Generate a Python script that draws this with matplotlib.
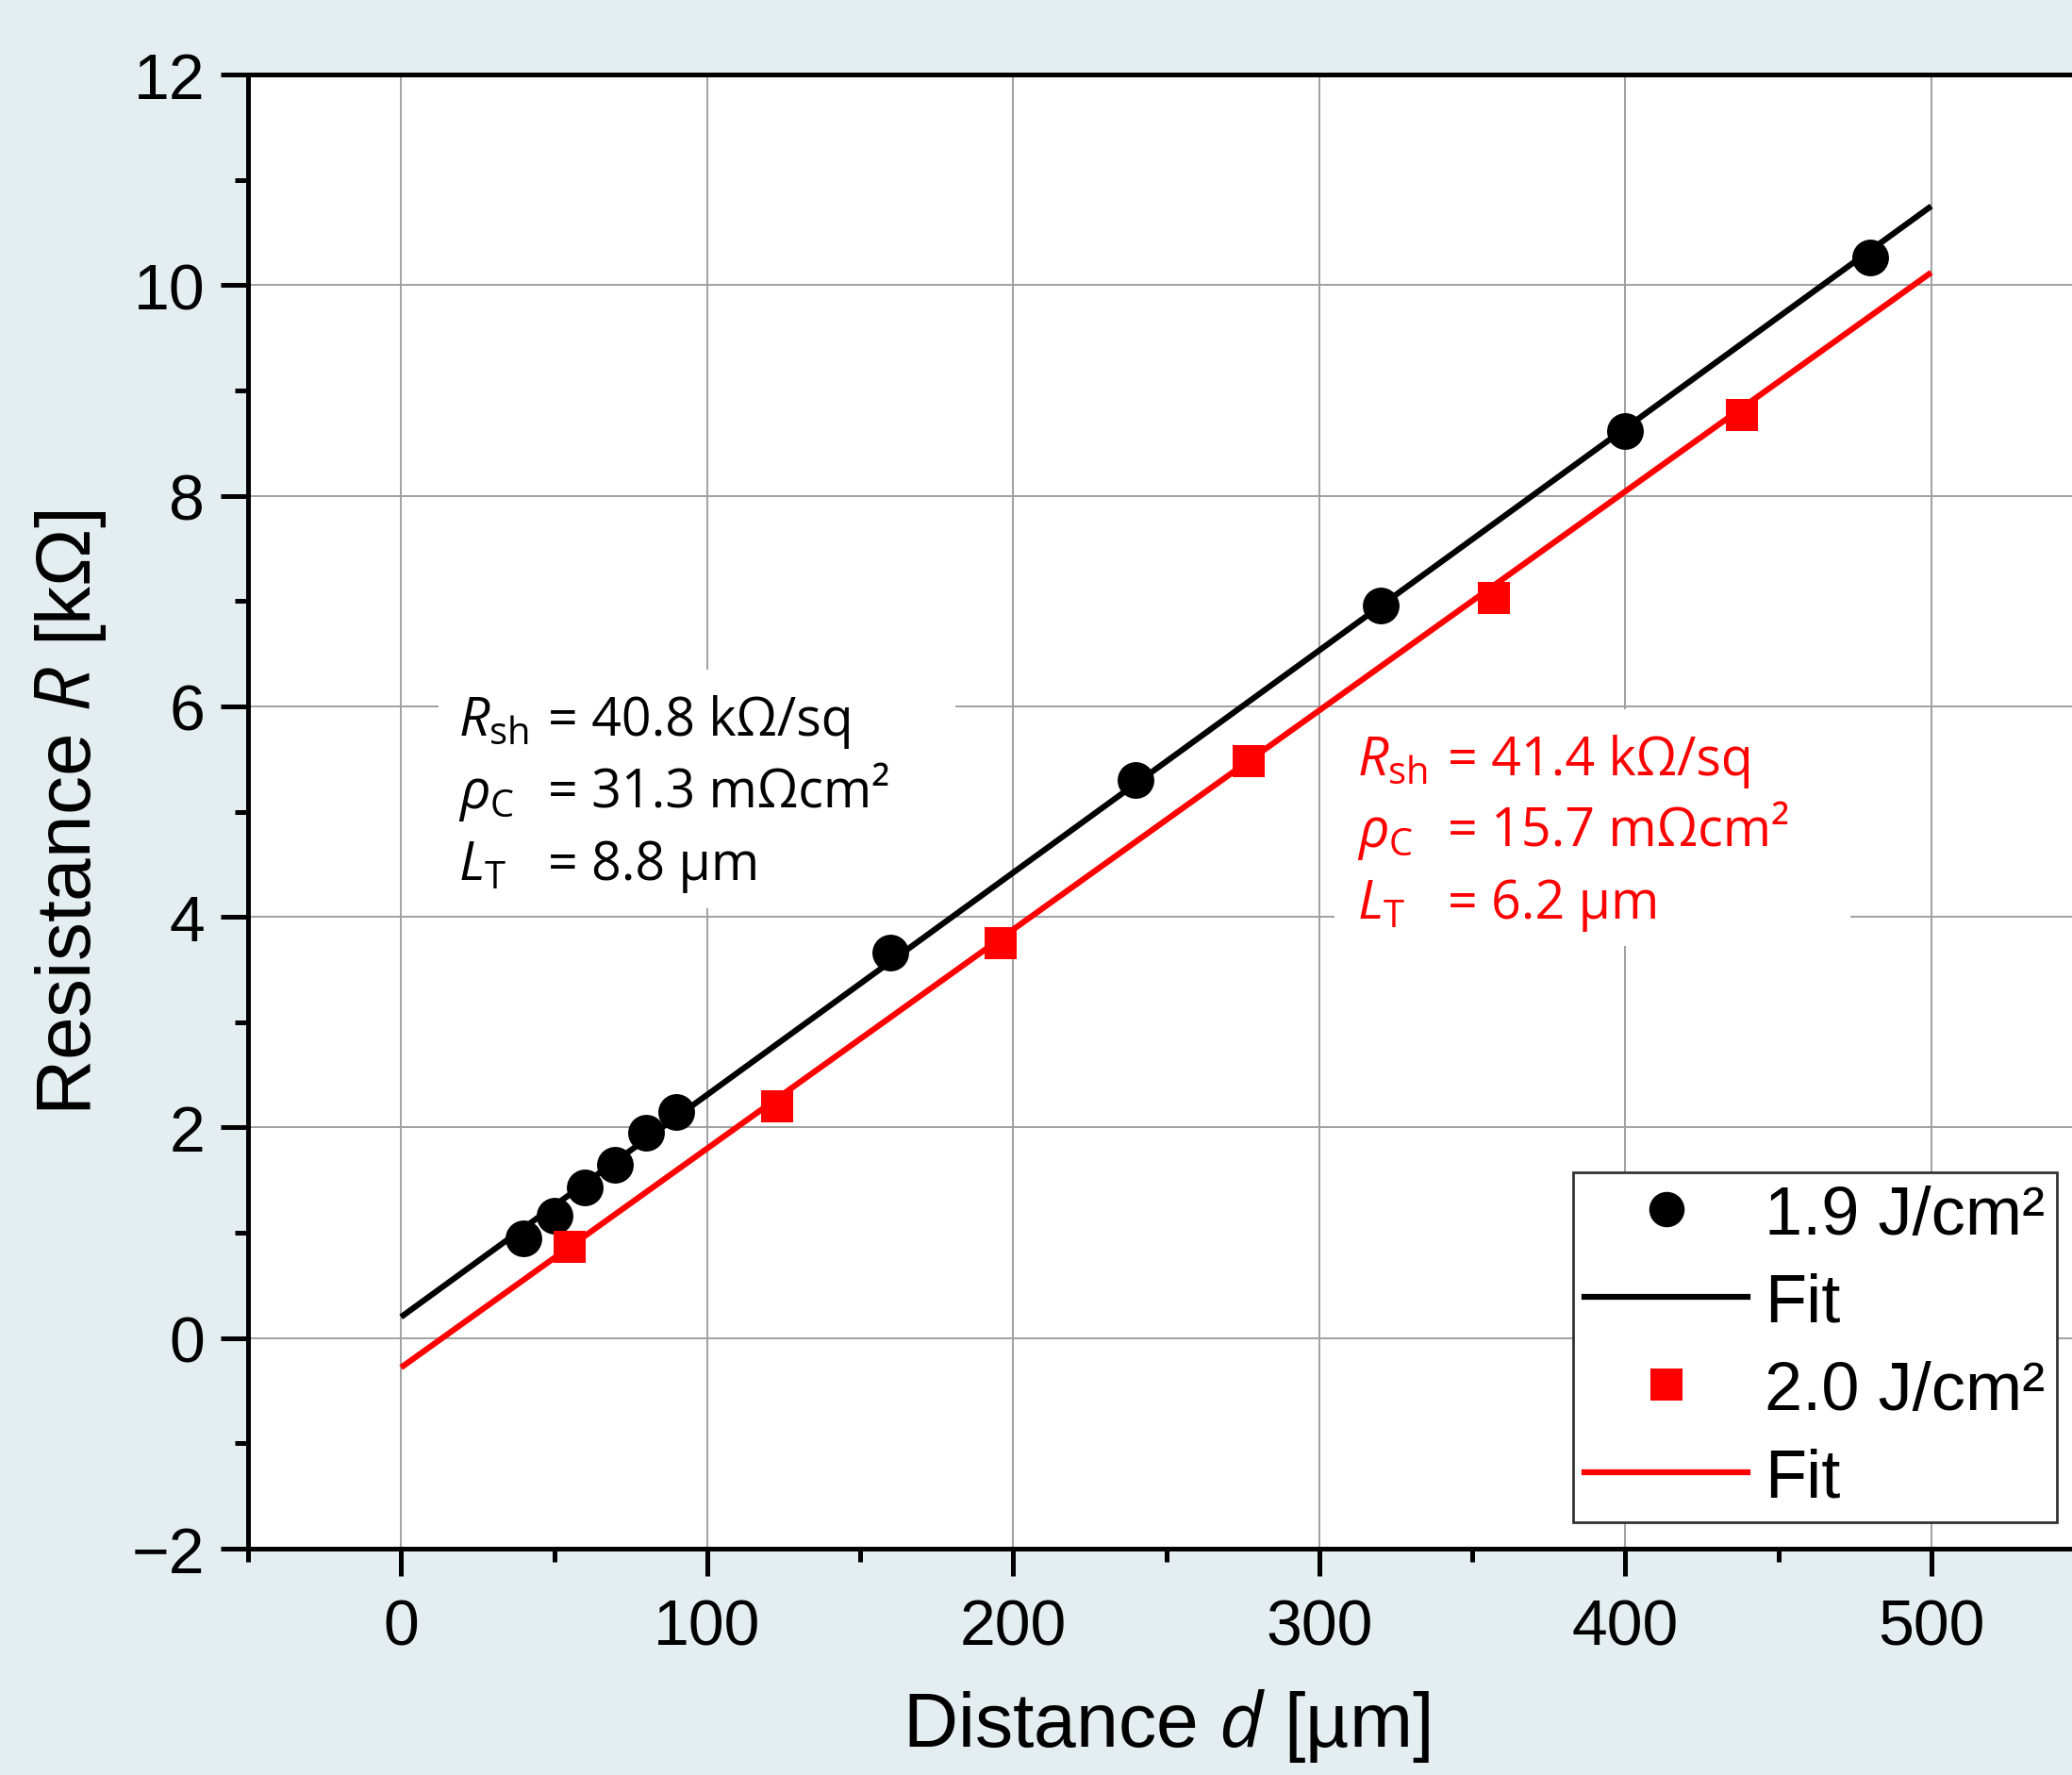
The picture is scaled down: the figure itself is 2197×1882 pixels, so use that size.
import numpy as np
import matplotlib
matplotlib.use("Agg")
import matplotlib.pyplot as plt
from matplotlib.patches import Rectangle
from matplotlib.lines import Line2D
from matplotlib.ticker import MultipleLocator

d_19 = [40, 50, 60, 70, 80, 90, 160, 240, 320, 400, 480]
R_19 = [0.95, 1.16, 1.43, 1.65, 1.95, 2.15, 3.66, 5.30, 6.96, 8.61, 10.26]
d_20 = [55, 123, 196, 277, 357, 438]
R_20 = [0.87, 2.20, 3.75, 5.48, 7.03, 8.77]

# fit lines (end points)
fit_d = [0, 500]
fit_19 = [0.20, 10.75]
fit_20 = [-0.28, 10.12]

labels = ["1.9 J/cm²", "Fit", "2.0 J/cm²", "Fit"]
txt_19 = ["40.8 kΩ/sq", "31.3 mΩcm²", "8.8 µm"]
txt_20 = ["41.4 kΩ/sq", "15.7 mΩcm²", "6.2 µm"]
sym = [r"$R_\mathregular{sh}$", r"$\rho_\mathregular{C}$", r"$L_\mathregular{T}$"]

plt.rcParams["font.family"] = ["Liberation Sans", "DejaVu Sans"]
plt.rcParams["mathtext.fontset"] = "custom"
plt.rcParams["mathtext.rm"] = "Open Sans"
plt.rcParams["mathtext.it"] = "Open Sans:italic"

bg = "#e4edf0"
fig = plt.figure(figsize=(21.97, 18.83), dpi=100, facecolor=bg)
ax = fig.add_axes([263 / 2197, 1 - 1643 / 1883, (2210 - 263) / 2197, (1643 - 80) / 1883])
ax.set_facecolor("white")

ax.set_xlim(-50, 550)
ax.set_ylim(-2, 12)
ax.xaxis.set_major_locator(MultipleLocator(100))
ax.xaxis.set_minor_locator(MultipleLocator(50))
ax.yaxis.set_major_locator(MultipleLocator(2))
ax.yaxis.set_minor_locator(MultipleLocator(1))
ax.set_axisbelow(True)
ax.grid(True, which="major", color="#a0a0a0", lw=1.4)

for s in ax.spines.values():
    s.set_linewidth(3.6)
ax.tick_params(which="major", direction="out", length=21, width=3.6,
               labelsize=49, top=False, right=False)
ax.tick_params(which="minor", direction="out", length=10, width=3.6,
               top=False, right=False)
ax.tick_params(axis="x", which="major", pad=16)
ax.tick_params(axis="y", which="major", pad=12)

# white boxes behind the parameter text
ax.add_patch(Rectangle((12.3, 4.08), 168.7, 2.27, facecolor="white",
                       edgecolor="none", zorder=1))
ax.add_patch(Rectangle((305, 3.72), 168.5, 2.25, facecolor="white",
                       edgecolor="none", zorder=1))

ax.plot(fit_d, fit_19, color="black", lw=4.5, zorder=2, solid_capstyle="butt")
ax.plot(fit_d, fit_20, color="#ff0000", lw=4.5, zorder=2, solid_capstyle="butt")
ax.plot(d_19, R_19, "o", color="black", ms=28, mew=0, zorder=3)
ax.plot(d_20, R_20, "s", color="#ff0000", ms=24, mew=0, zorder=3)

rows_19 = [5.733, 5.043, 4.362]
rows_20 = [5.357, 4.676, 3.995]
for i in range(3):
    ax.text(18.8, rows_19[i], sym[i], fontsize=41, family="Open Sans",
            va="baseline", color="black", zorder=4)
    ax.text(48.1, rows_19[i], "= " + txt_19[i], fontsize=40, family="Open Sans",
            va="baseline", color="black", zorder=4)
    ax.text(312.3, rows_20[i], sym[i], fontsize=41, family="Open Sans",
            va="baseline", color="#ff0000", zorder=4)
    ax.text(341.9, rows_20[i], "= " + txt_20[i], fontsize=40, family="Open Sans",
            va="baseline", color="#ff0000", zorder=4)

ax.set_xlabel(r"Distance $d$ [µm]", fontsize=58, labelpad=22)
ax.set_ylabel(r"Resistance $R$ [kΩ]", fontsize=59, labelpad=18)

handles = [
    Line2D([], [], ls="none", marker="o", color="black", ms=27, mew=0),
    Line2D([], [], color="black", lw=4.5),
    Line2D([], [], ls="none", marker="s", color="#ff0000", ms=24, mew=0),
    Line2D([], [], color="#ff0000", lw=4.5),
]
leg = ax.legend(handles, labels, loc="lower right", bbox_to_anchor=(0.985, 0.018),
                borderaxespad=0, fontsize=52, handlelength=2.4, handletextpad=0.25,
                labelspacing=0.36, borderpad=0.17, fancybox=False, framealpha=1,
                edgecolor="#333333")
leg.get_frame().set_linewidth(2)

fig.savefig("out.png", dpi=100, facecolor=bg)
